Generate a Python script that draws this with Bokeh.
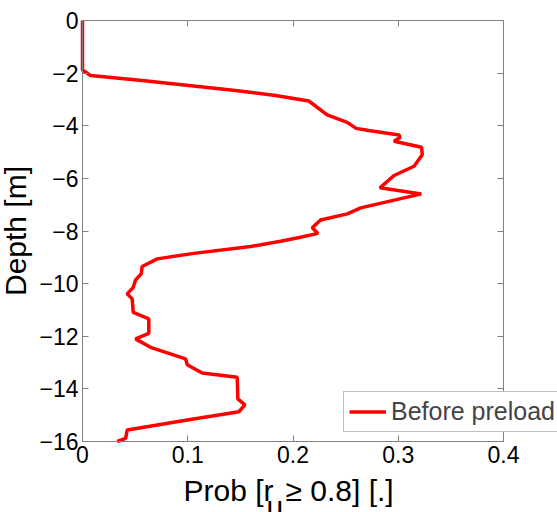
from bokeh.plotting import figure
from bokeh.models import (Range1d, FixedTicker, LinearAxis, Legend, LegendItem, Label)
from bokeh.embed import file_html
from bokeh.resources import INLINE

# Data
prob = [0.0, 0.0, 0.0076, 0.0567, 0.1454, 0.1834, 0.215, 0.2325, 0.2515, 0.260,
        0.272, 0.3007, 0.3017, 0.296, 0.3222, 0.3228, 0.315, 0.296, 0.2826, 0.3219,
        0.2643, 0.2516, 0.2262, 0.2183, 0.2236, 0.2072, 0.1882, 0.1597, 0.1058, 0.071,
        0.0567, 0.0558, 0.0504, 0.0482, 0.0425, 0.0472, 0.0482, 0.063, 0.063, 0.0504,
        0.0646, 0.098, 0.0995, 0.1137, 0.147, 0.1476, 0.1543, 0.1486, 0.101, 0.0425,
        0.041, 0.033]
depth = [0.0, -1.88, -2.09, -2.28, -2.66, -2.85, -3.06, -3.59, -3.87, -4.1,
         -4.18, -4.35, -4.45, -4.59, -4.82, -5.1, -5.54, -5.89, -6.36, -6.59,
         -7.12, -7.35, -7.58, -7.88, -8.09, -8.24, -8.39, -8.59, -8.85, -9.06,
         -9.35, -9.63, -9.86, -10.14, -10.39, -10.58, -11.09, -11.34, -11.89, -12.1,
         -12.42, -12.86, -13.08, -13.4, -13.56, -14.38, -14.61, -14.87, -15.17, -15.56,
         -15.88, -16.0]
x_ticks = [0, 0.1, 0.2, 0.3, 0.4]
y_ticks = [0, -2, -4, -6, -8, -10, -12, -14, -16]
x_lim = (0.0, 0.4)
y_lim = (-16.0, 0.0)
series_name = "Before preload"

FONT = "Liberation Sans"
GRAY = "#808080"

# Canvas 557x512; the axes box spans pixels 82..503 (x) and 20..441 (y).
W, H = 557, 512
BOX_L, BOX_R, BOX_T, BOX_B = 82, 503, 20, 441
xs = (x_lim[1] - x_lim[0]) / (BOX_R - BOX_L)
ys = (y_lim[1] - y_lim[0]) / (BOX_B - BOX_T)
x_range = Range1d(x_lim[0] - BOX_L * xs, x_lim[1] + (W - BOX_R) * xs)
y_range = Range1d(y_lim[0] - (H - BOX_B) * ys, y_lim[1] + BOX_T * ys)

p = figure(width=W, height=H, output_backend="svg", toolbar_location=None,
           x_range=x_range, y_range=y_range, min_border=0,
           x_axis_location=None, y_axis_location=None)
p.grid.visible = False
p.outline_line_color = None
p.background_fill_color = "white"
p.border_fill_color = "white"

def make_axis(ticks, loc, bounds, show_labels):
    ax = LinearAxis(ticker=FixedTicker(ticks=ticks), fixed_location=loc, bounds=bounds)
    ax.axis_line_color = GRAY
    ax.axis_line_width = 1
    ax.major_tick_line_color = GRAY
    ax.major_tick_in = 6
    ax.major_tick_out = 0
    ax.minor_tick_line_color = None
    if show_labels:
        ax.major_label_text_font = FONT
        ax.major_label_text_font_size = "23px"
        ax.major_label_text_color = "black"
        ax.major_label_standoff = 4
    else:
        ax.major_label_text_font_size = "1px"
        ax.major_label_text_color = None
        ax.major_label_standoff = 0
    return ax

bottom = make_axis(x_ticks, y_lim[0], x_lim, True)
left = make_axis(y_ticks, x_lim[0], y_lim, True)
left.axis_label = "Depth [m]"
left.axis_label_text_font = FONT
left.axis_label_text_font_size = "30px"
left.axis_label_text_font_style = "normal"
left.axis_label_text_color = "black"
left.axis_label_standoff = 4
top = make_axis(x_ticks, y_lim[1], x_lim, False)
right = make_axis(y_ticks, x_lim[1], y_lim, False)
p.add_layout(bottom, "below")
p.add_layout(left, "left")
p.add_layout(top, "above")
p.add_layout(right, "right")

r = p.line(prob, depth, line_color="#ff0000", line_width=3.5)

# x-axis label with subscript, drawn as text pieces below the box
lab_kw = dict(text_font=FONT, text_font_size="30px", text_color="black",
              text_baseline="alphabetic", text_align="left")
base_y = y_lim[0] - 49 * ys
sub_y = y_lim[0] - 65 * ys
p.add_layout(Label(x=101 * xs, y=base_y, text="Prob [r", **lab_kw))
p.add_layout(Label(x=184 * xs, y=sub_y, text="u", **lab_kw))
p.add_layout(Label(x=203 * xs, y=base_y, text="\u2265 0.8] [.]", **lab_kw))

legend = Legend(items=[LegendItem(label=series_name, renderers=[r])],
                location=(343, H - 432))
legend.label_text_font = FONT
legend.label_text_font_size = "25px"
legend.label_height = 25
legend.glyph_height = 25
legend.glyph_width = 37
legend.label_standoff = 5
legend.padding = 5
legend.margin = 0
legend.spacing = 0
legend.border_line_color = GRAY
legend.border_line_width = 1
legend.background_fill_color = "white"
legend.background_fill_alpha = 1
p.add_layout(legend, "center")

open("out.html", "w").write(file_html(p, INLINE))
